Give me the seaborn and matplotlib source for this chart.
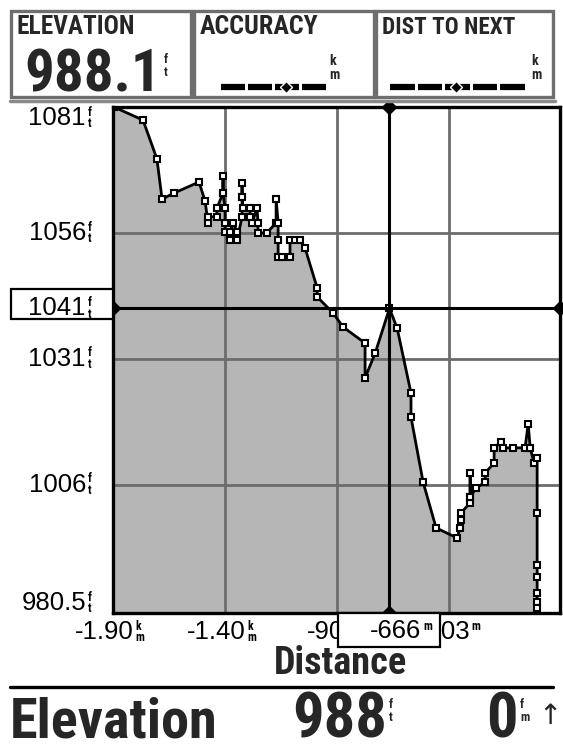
import matplotlib
matplotlib.use("Agg")
import matplotlib.pyplot as plt
import seaborn as sns
import pandas as pd
from matplotlib import font_manager
from matplotlib.patches import Rectangle
from matplotlib.lines import Line2D
from matplotlib import transforms

# ---------------- data ----------------
distance_km = [-1.896, -1.766, -1.704, -1.681, -1.628, -1.516, -1.489, -1.476, -1.476, -1.436,
               -1.436, -1.409, -1.409, -1.409, -1.400, -1.400, -1.400, -1.378, -1.378, -1.364,
               -1.346, -1.346, -1.324, -1.324, -1.324, -1.324, -1.320, -1.288, -1.288, -1.280,
               -1.257, -1.253, -1.253, -1.213, -1.172, -1.172, -1.163, -1.163, -1.163, -1.146,
               -1.110, -1.110, -1.088, -1.065, -1.043, -0.989, -0.989, -0.918, -0.873, -0.775,
               -0.775, -0.730, -0.666, -0.632, -0.570, -0.570, -0.516, -0.458, -0.364, -0.351,
               -0.346, -0.346, -0.306, -0.306, -0.306, -0.306, -0.280, -0.239, -0.239, -0.199,
               -0.199, -0.168, -0.159, -0.114, -0.061, -0.047, -0.038, -0.021, -0.007, -0.007,
               -0.007, -0.007, -0.007, -0.007, -0.007]
elevation_ft = [1081.0, 1078.4, 1070.7, 1062.7, 1063.9, 1066.1, 1062.3, 1058.0, 1059.2, 1059.2,
                1060.9, 1063.9, 1067.3, 1063.9, 1060.9, 1058.0, 1056.2, 1054.6, 1056.2, 1058.0,
                1056.2, 1054.6, 1059.2, 1063.1, 1065.9, 1063.1, 1060.9, 1060.9, 1059.2, 1058.0,
                1060.9, 1058.0, 1056.0, 1056.0, 1058.0, 1062.7, 1058.0, 1054.6, 1051.2, 1051.2,
                1051.2, 1054.6, 1054.6, 1054.6, 1053.0, 1045.1, 1043.3, 1040.1, 1037.3, 1034.1,
                1027.2, 1032.1, 1041.0, 1037.1, 1024.2, 1019.4, 1006.5, 997.4, 995.4, 997.4,
                999.0, 1000.4, 1002.4, 1003.5, 1008.3, 1003.5, 1005.3, 1006.5, 1008.3, 1010.3,
                1013.3, 1014.5, 1013.3, 1013.3, 1013.3, 1018.0, 1013.3, 1010.3, 1011.3, 1000.4,
                990.0, 987.7, 984.5, 982.7, 981.5]

y_limits = [980.5, 1081.0]
x_limits = [-1.90, 0.095]
y_tick_values = [1081, 1056, 1041, 1031, 1006, 980.5]
y_tick_labels = ["1081", "1056", "1041", "1031", "1006", "980.5"]
grid_y = [1056, 1031, 1006]
grid_x = [-1.40, -0.90, -0.40]
x_tick_values = [-1.90, -1.40, -0.90, -0.40]
x_tick_labels = ["-1.90", "-1.40", "-900", "-403"]
x_tick_units = ["k\nm", "k\nm", "m", "m"]
cursor_x = -0.666
cursor_y = 1041
cursor_x_label = "-666"
cursor_y_label = "1041"
header_titles = ["ELEVATION", "ACCURACY", "DIST TO NEXT"]
header_value = "988.1"
footer_label = "Elevation"
footer_value = "988"
footer_rate = "0"

df = pd.DataFrame({"distance": distance_km, "elevation": elevation_ft})

# ---------------- style ----------------
sns.set_style("white")
names = {f.name for f in font_manager.fontManager.ttflist}

def pick(cands, default="DejaVu Sans"):
    for c in cands:
        if c in names:
            return c
    return default

REG = pick(["Liberation Sans Narrow", "Liberation Sans", "Roboto"])
BOLD = pick(["Roboto Condensed", "Liberation Sans Narrow", "Roboto", "Liberation Sans"])
plt.rcParams["font.family"] = [REG, "DejaVu Sans"]
BF = [BOLD, "DejaVu Sans"]

W, H = 563, 745
fig = plt.figure(figsize=(W / 100, H / 100), dpi=100)
fig.patch.set_facecolor("white")

def fx(px):
    return px / W

def fy(py):
    return 1 - py / H

ax = fig.add_axes([fx(113), fy(613), 447 / W, 506 / H])
ax.set_xlim(*x_limits)
ax.set_ylim(*y_limits)

FILL = "#b6b6b6"
GRID = "#6c6c6c"

ax.fill_between(df["distance"], df["elevation"], y_limits[0], color=FILL, lw=0, zorder=1)
for gx in grid_x:
    ax.axvline(gx, color=GRID, lw=2.0, zorder=2)
for gy in grid_y:
    ax.axhline(gy, color=GRID, lw=2.0, zorder=2)

sns.lineplot(data=df, x="distance", y="elevation", ax=ax, sort=False, estimator=None,
             color="black", lw=2.0, marker="s", markersize=5.0, markerfacecolor="white",
             markeredgecolor="black", markeredgewidth=1.5, zorder=4)

# cursor cross
ax.axvline(cursor_x, color="black", lw=2.2, zorder=5)
ax.axhline(cursor_y, color="black", lw=2.2, zorder=5)
ax.plot([x_limits[0], x_limits[1]], [cursor_y, cursor_y], ls="none", marker="D",
        ms=7, color="black", clip_on=False, zorder=6)
ax.plot([cursor_x, cursor_x], [y_limits[0], y_limits[1]], ls="none", marker="D",
        ms=7, color="black", clip_on=False, zorder=6)

for s in ax.spines.values():
    s.set_color("black")
    s.set_linewidth(2.4)
    s.set_zorder(7)
ax.set_xticks([])
ax.set_yticks([])
ax.set_xlabel("")
ax.set_ylabel("")

# ---------------- axis labels ----------------
def unit_stack(xy, xycoords, text, dx, dy, size=8.5, z=9):
    ax.annotate(text, xy=xy, xycoords=xycoords, xytext=(dx, dy), textcoords="offset pixels",
                ha="left", va="center", fontsize=size, fontweight="bold", color="black",
                family=BF, annotation_clip=False, zorder=z, linespacing=0.85)

TICK_FS = 18.5
ytrans = transforms.blended_transform_factory(fig.transFigure, ax.transData)
for v, lab in zip(y_tick_values, y_tick_labels):
    if v == cursor_y:
        continue
    dy = 0
    if v == y_limits[1]:
        dy = -11
    elif v == y_limits[0]:
        dy = 10
    ax.annotate(lab, xy=(fx(86), v), xycoords=ytrans, xytext=(0, dy), textcoords="offset pixels",
                ha="right", va="center", fontsize=TICK_FS, color="black", annotation_clip=False)
    unit_stack((fx(86), v), ytrans, "f\nt", 2, dy)

# cursor y label in a box
ax.add_patch(Rectangle((fx(11), fy(319)), fx(113) - fx(11), fy(289) - fy(319),
                       transform=fig.transFigure, facecolor="white", edgecolor="black",
                       lw=1.6, clip_on=False, zorder=8))
ax.annotate(cursor_y_label, xy=(fx(86), cursor_y), xycoords=ytrans, xytext=(0, 0),
            textcoords="offset pixels", ha="right", va="center", fontsize=TICK_FS,
            color="black", annotation_clip=False, zorder=9)
unit_stack((fx(86), cursor_y), ytrans, "f\nt", 2, 0)

xtrans = transforms.blended_transform_factory(ax.transData, fig.transFigure)
for v, lab, u in zip(x_tick_values, x_tick_labels, x_tick_units):
    ax.annotate(lab, xy=(v, fy(632)), xycoords=xtrans, xytext=(21, 0), textcoords="offset pixels",
                ha="right", va="center", fontsize=TICK_FS, color="black", annotation_clip=False,
                zorder=3)
    unit_stack((v, fy(632)), xtrans, u, 22, 0 if "\n" in u else 5, z=3)

# cursor x label box (covers part of the neighbouring tick labels, as on the device)
box = Rectangle((fx(338), fy(647)), fx(440) - fx(338), fy(613) - fy(647),
                transform=fig.transFigure, facecolor="white", edgecolor="black",
                lw=1.6, clip_on=False, zorder=8)
ax.add_patch(box)
ax.annotate(cursor_x_label, xy=(cursor_x, fy(631)), xycoords=xtrans, xytext=(32, 0),
            textcoords="offset pixels", ha="right", va="center", fontsize=TICK_FS,
            color="black", annotation_clip=False, zorder=9)
ax.annotate("m", xy=(cursor_x, fy(631)), xycoords=xtrans, xytext=(34, 5),
            textcoords="offset pixels", ha="left", va="center", fontsize=8.5, fontweight="bold",
            color="black", annotation_clip=False, zorder=9, family=BF)

dist_t = fig.text(fx(340), fy(664), "Distance", ha="center", va="center", fontsize=17,
                  fontweight="heavy", family=BF)

# ---------------- header ----------------
for (x0, x1) in [(11, 191), (194, 374), (376, 553)]:
    fig.patches.append(Rectangle((fx(x0), fy(97)), fx(x1) - fx(x0), fy(11) - fy(97),
                                 transform=fig.transFigure, facecolor="white",
                                 edgecolor="#6e6e6e", lw=2.4))
fig.lines.append(Line2D([fx(10), fx(555)], [fy(101), fy(101)], transform=fig.transFigure,
                        color="#8a8a8a", lw=2.5))
titles = []
for x0, t in zip([17, 200, 382], header_titles):
    titles.append(fig.text(fx(x0), fy(27), t, ha="left", va="center", fontsize=12,
                           fontweight="bold", family=BF))
hv = fig.text(fx(24), fy(92), header_value, ha="left", va="baseline", fontsize=40,
              fontweight="heavy", family=BF)
fig.text(fx(164), fy(66), "f\nt", ha="left", va="center", fontsize=9, fontweight="bold",
         family=BF, linespacing=1.0)

def dash_bar(x0, x1, dot_x, y):
    w = (x1 - x0)
    gap = 3
    count = 4 if w < 110 else 5
    dw = (w - gap * (count - 1)) / count
    for i in range(count):
        a = x0 + i * (dw + gap)
        fig.lines.append(Line2D([fx(a), fx(a + dw)], [fy(y), fy(y)], transform=fig.transFigure,
                                color="black", lw=4.5, solid_capstyle="butt"))
    fig.lines.append(Line2D([fx(dot_x)], [fy(y)], transform=fig.transFigure, marker="D",
                            ms=6, color="black", mec="white", mew=1))

dash_bar(221, 326, 286, 87)
dash_bar(390, 525, 456, 87)
for xk in [329, 531]:
    fig.text(fx(xk), fy(68), "k\nm", ha="left", va="center", fontsize=10, fontweight="bold",
             family=BF, linespacing=1.05)

# ---------------- footer ----------------
fig.lines.append(Line2D([fx(10), fx(553)], [fy(687), fy(687)], transform=fig.transFigure,
                        color="black", lw=2.4))
BASE = 737
el = fig.text(fx(10), fy(BASE), footer_label, ha="left", va="baseline", fontsize=36,
              fontweight="heavy", family=BF)
fv = fig.text(fx(292), fy(BASE), footer_value, ha="left", va="baseline", fontsize=36,
              fontweight="heavy", family=BF)
fig.text(fx(389), fy(711), "f\nt", ha="left", va="center", fontsize=9, fontweight="bold",
         family=BF, linespacing=1.0)
fr = fig.text(fx(518), fy(BASE), footer_rate, ha="right", va="baseline", fontsize=36,
              fontweight="heavy", family=BF)
fig.text(fx(520), fy(711), "f\nm", ha="left", va="center", fontsize=9, fontweight="bold",
         family=BF, linespacing=1.0)
fig.text(fx(562), fy(716), "\u2191", ha="right", va="center", fontsize=20,
         family=["DejaVu Sans"])

# fit big texts to their widths in the reference
fig.canvas.draw()
r = fig.canvas.get_renderer()
for t, target in [(el, 208), (fv, 95), (hv, 136), (dist_t, 133),
                  (titles[0], 118), (titles[1], 118), (titles[2], 132)]:
    bb = t.get_window_extent(r)
    t.set_fontsize(t.get_fontsize() * target / bb.width)
fr.set_fontsize(fv.get_fontsize())

fig.savefig("out.png", dpi=100, facecolor="white")
